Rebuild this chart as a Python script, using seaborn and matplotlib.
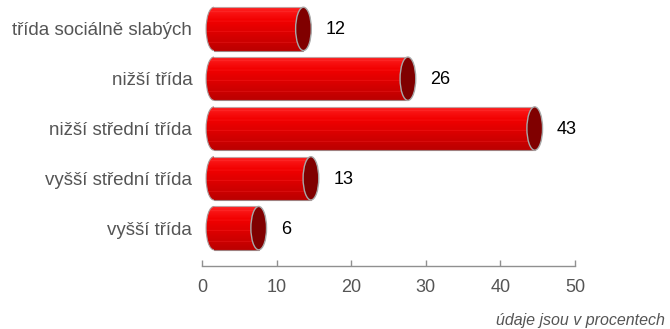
import numpy as np
import matplotlib
matplotlib.use("Agg")
import matplotlib.pyplot as plt
import seaborn as sns
from matplotlib.patches import Ellipse, Rectangle, Arc
from matplotlib.colors import to_rgb

categories = ["třída sociálně slabých", "nižší třída", "nižší střední třída",
              "vyšší střední třída", "vyšší třída"]
values = [12, 26, 43, 13, 6]
x_ticks = [0, 10, 20, 30, 40, 50]
footnote = "údaje jsou v procentech"

sns.set_theme(style="white")
plt.rcParams["font.family"] = ["Liberation Sans", "DejaVu Sans"]

fig = plt.figure(figsize=(6.7, 3.29), dpi=100)
ax = fig.add_axes([202/670, 63/329, 373/670, 266/329])

sns.barplot(x=values, y=categories, orient="h", width=0.87, color="#e00000",
            ax=ax, zorder=2)

DEPTH = 1.6      # 3D shift in data units
CAP_W = 2.1      # ellipse width in data units

# vertical gradient profile for the cylinder body
n = 120
t = np.linspace(0, 1, n)
top = np.array(to_rgb("#ff2222"))
mid = np.array(to_rgb("#f20000"))
bot = np.array(to_rgb("#bb0000"))
prof = np.empty((n, 3))
for i, s in enumerate(t):
    if s < 0.3:
        u = s/0.3
        c = top*(1-u) + mid*u
    else:
        u = (s - 0.3)/0.7
        c = mid*(1-u) + bot*u
    prof[i] = c
for s in [0.1, 0.32, 0.55, 0.8]:
    k = int(s*n)
    prof[k] = np.clip(prof[k] + 0.15, 0, 1)
grad = np.tile(prof[:, None, :], (1, 4, 1))

bars = list(ax.patches)
for p, v in zip(bars, values):
    y0 = p.get_y()
    h = p.get_height()
    x0 = p.get_x() + DEPTH
    w = p.get_width()
    p.set_x(x0)
    p.set_facecolor("none")
    p.set_edgecolor("none")
    yc = y0 + h/2
    # left rounded end, filled with the same gradient
    ell = Ellipse((x0, yc), CAP_W, h, transform=ax.transData)
    im0 = ax.imshow(grad, extent=(x0 - CAP_W/2, x0 + 0.01, y0 + h, y0),
                    origin="upper", aspect="auto", zorder=2,
                    interpolation="bilinear")
    im0.set_clip_path(ell)
    ax.add_patch(Arc((x0, yc), CAP_W, h, theta1=90, theta2=270,
                     edgecolor="#a89898", lw=0.8, zorder=3))
    im = ax.imshow(grad, extent=(x0, x0 + w, y0 + h, y0), origin="upper",
                   aspect="auto", zorder=2, interpolation="bilinear")
    clip = Rectangle((x0, y0), w, h, transform=ax.transData)
    im.set_clip_path(clip)
    ax.plot([x0, x0 + w], [y0, y0], color="#c0a0a0", lw=0.8, zorder=3)
    ax.plot([x0, x0 + w], [y0 + h, y0 + h], color="#a08080", lw=0.8, zorder=3)
    # right cap
    ax.add_patch(Ellipse((x0 + w, yc), CAP_W, h, facecolor="#800000",
                         edgecolor="#a8a8a8", lw=1.0, zorder=4))
    ax.annotate(str(v), xy=(x0 + w, yc + 0.02), xytext=(16, 0),
                textcoords="offset points", ha="left", va="center",
                fontsize=13, color="black")

ax.set_xlim(0, 50)
ax.set_ylim(4.76, -0.58)
ax.set_xticks(x_ticks)
ax.set_xticklabels([str(x) for x in x_ticks])
ax.set_xlabel("")
ax.set_ylabel("")

for s in ["top", "right", "left"]:
    ax.spines[s].set_visible(False)
ax.spines["bottom"].set_color("#909090")
ax.spines["bottom"].set_linewidth(1.0)
ax.tick_params(axis="x", direction="in", length=4, width=1, color="#909090",
               labelsize=13, labelcolor="#555555", pad=9, bottom=True)
ax.tick_params(axis="y", length=0, labelsize=13.5, labelcolor="#555555", pad=7)
ax.set_facecolor("white")
ax.grid(False)

fig.text(665/670, 1 - 320/329, footnote, ha="right", va="center",
         fontsize=11.5, style="italic", color="#555555")

fig.savefig("out.png", dpi=100)
